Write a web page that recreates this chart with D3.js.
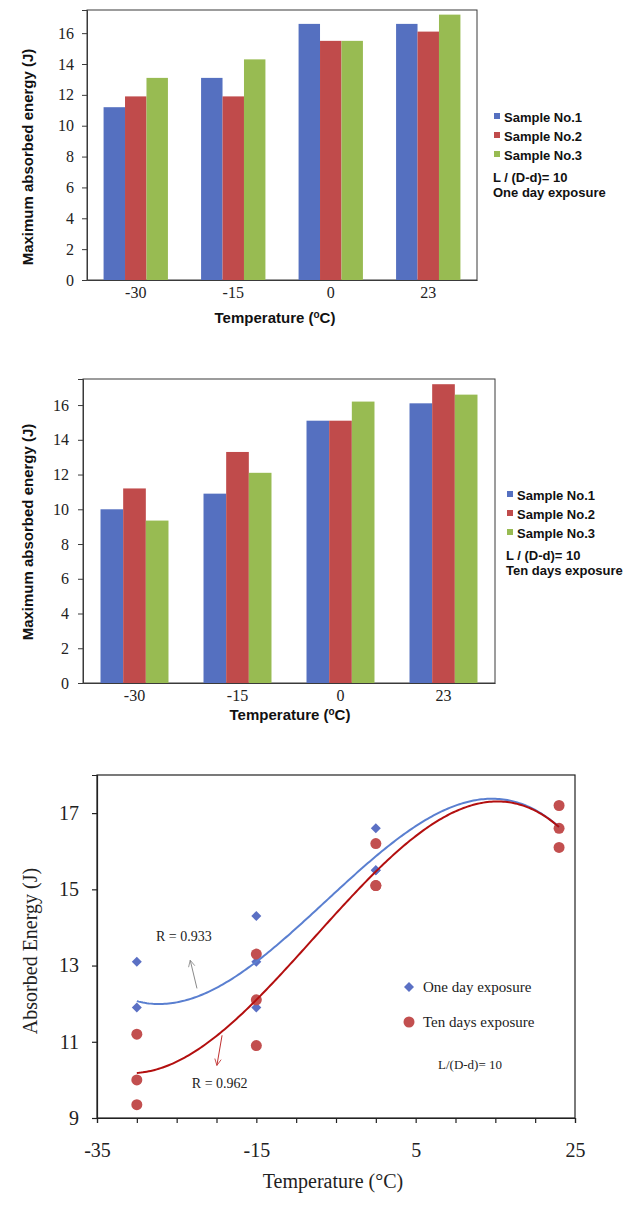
<!DOCTYPE html>
<html>
<head>
<meta charset="utf-8">
<script src="https://cdn.jsdelivr.net/npm/d3@7"></script>
<style>
  body { margin: 0; background: #fff; }
  .btitle { font-family: "Liberation Sans", Arial, sans-serif; font-weight: bold; font-size: 15px; fill: #111; }
  .blegend { font-family: "Liberation Sans", Arial, sans-serif; font-weight: bold; font-size: 13px; fill: #111; }
  .serif { font-family: "Liberation Serif", "Times New Roman", serif; fill: #222; }
</style>
</head>
<body>
<script>
// data
let temps = [-30, -15, 0, 23];
let samples = ["Sample No.1", "Sample No.2", "Sample No.3"];
let colors = ["#5570c0", "#c04b4b", "#98bb52"];
// one day exposure, per sample, per temperature
let oneDay = [
  [11.2, 13.1, 16.6, 16.6],
  [11.9, 11.9, 15.5, 16.1],
  [13.1, 14.3, 15.5, 17.2]
];
// ten days exposure
let tenDays = [
  [10.0, 10.9, 15.1, 16.1],
  [11.2, 13.3, 15.1, 17.2],
  [9.35, 12.1, 16.2, 16.6]
];
let barTicks = [0, 2, 4, 6, 8, 10, 12, 14, 16];
let scatterYTicks = [9, 11, 13, 15, 17];
let scatterXTicks = [-35, -30, -25, -20, -15, -10, -5, 0, 5, 10, 15, 20, 25];
let scatterXLabels = [-35, -15, 5, 25];

const SERIF = '"Liberation Serif", "Times New Roman", serif';

let svg = d3.select("body").append("svg")
    .attr("width", 630)
    .attr("height", 1209);

function barChart(vals, box, legendBox, note) {
  let g = svg.append("g");
  let x = d3.scaleBand().domain(temps).range([box.left, box.right])
      .paddingInner(0.34).paddingOuter(0.17);
  let xs = d3.scaleBand().domain(d3.range(samples.length)).range([0, x.bandwidth()]);
  let y = d3.scaleLinear().domain([0, 17.5]).range([box.bottom, box.top]);

  g.append("rect")
    .attr("x", box.left).attr("y", box.top)
    .attr("width", box.right - box.left).attr("height", box.bottom - box.top)
    .attr("fill", "#fff").attr("stroke", "#3a3a3a").attr("stroke-width", 1);

  samples.forEach((s, i) => {
    g.append("g").selectAll("rect")
      .data(vals[i])
      .enter().append("rect")
      .attr("x", (d, j) => x(temps[j]) + xs(i))
      .attr("width", xs.bandwidth())
      .attr("y", d => y(d))
      .attr("height", d => y(0) - y(d))
      .attr("fill", colors[i]);
  });

  let ya = g.append("g")
    .attr("transform", "translate(" + box.left + ",0)")
    .call(d3.axisLeft(y).tickValues(barTicks).tickSize(5).tickPadding(box.ypad));
  ya.select(".domain").attr("stroke", "#3a3a3a");
  ya.selectAll("line").attr("stroke", "#3a3a3a");
  ya.selectAll("text").style("font-family", SERIF).style("font-size", "16px").attr("fill", "#222");

  let xa = g.append("g")
    .attr("transform", "translate(0," + box.bottom + ")")
    .call(d3.axisBottom(x).tickSize(0).tickPadding(box.xpad));
  xa.select(".domain").attr("stroke", "#3a3a3a");
  xa.selectAll("text").style("font-family", SERIF).style("font-size", "16px").attr("fill", "#222");

  let t = g.append("text")
    .attr("class", "btitle")
    .attr("text-anchor", "middle")
    .attr("x", box.xtitle).attr("y", box.xtitleY)
    .text("Temperature (");
  t.append("tspan").attr("baseline-shift", "super").style("font-size", "10px").text("o");
  t.append("tspan").text("C)");

  g.append("text")
    .attr("class", "btitle")
    .attr("text-anchor", "middle")
    .attr("transform", "translate(" + box.ytitleX + "," + box.ytitleY + ") rotate(-90)")
    .text("Maximum absorbed energy (J)");

  samples.forEach((s, i) => {
    g.append("rect")
      .attr("x", legendBox.x).attr("y", legendBox.y + i * legendBox.dy - 4)
      .attr("width", 6).attr("height", 6)
      .attr("fill", colors[i]);
    g.append("text")
      .attr("class", "blegend")
      .attr("x", legendBox.x + 10).attr("y", legendBox.y + i * legendBox.dy + 4.5)
      .text(s);
  });
  g.append("text").attr("class", "blegend")
    .attr("x", legendBox.x - 1).attr("y", legendBox.y + 3 * legendBox.dy + 8)
    .text("L / (D-d)= 10");
  g.append("text").attr("class", "blegend")
    .attr("x", legendBox.x - 1).attr("y", legendBox.y + 3 * legendBox.dy + 23)
    .text(note);
}

barChart(oneDay,
  {left: 87, right: 477, top: 10, bottom: 280, ypad: 8, xpad: 7,
   xtitle: 275, xtitleY: 323, ytitleX: 33, ytitleY: 157},
  {x: 494, y: 117, dy: 19}, "One day exposure");

barChart(tenDays,
  {left: 83, right: 495, top: 379, bottom: 683, ypad: 9, xpad: 7,
   xtitle: 290, xtitleY: 720, ytitleX: 33, ytitleY: 532},
  {x: 507, y: 495, dy: 19}, "Ten days exposure");

// least squares polynomial fit
function polyfit(xs, ys, deg) {
  let n = deg + 1;
  let A = d3.range(n).map(() => d3.range(n + 1).map(() => 0));
  xs.forEach((xv, k) => {
    let t = xv / 10;
    for (let r = 0; r < n; r++) {
      for (let c = 0; c < n; c++) A[r][c] += Math.pow(t, r + c);
      A[r][n] += ys[k] * Math.pow(t, r);
    }
  });
  for (let i = 0; i < n; i++) {
    let p = i;
    for (let r = i + 1; r < n; r++) if (Math.abs(A[r][i]) > Math.abs(A[p][i])) p = r;
    [A[i], A[p]] = [A[p], A[i]];
    for (let r = 0; r < n; r++) {
      if (r === i) continue;
      let f = A[r][i] / A[i][i];
      for (let c = i; c <= n; c++) A[r][c] -= f * A[i][c];
    }
  }
  let coef = A.map((row, i) => row[n] / row[i]);
  return xv => coef.reduce((s, c, i) => s + c * Math.pow(xv / 10, i), 0);
}

function flatten(vals) {
  let pts = [];
  vals.forEach(row => row.forEach((v, j) => pts.push({x: temps[j], y: v})));
  return pts;
}

// scatter chart
let sb = {left: 97, right: 575, top: 775, bottom: 1118};
let sx = d3.scaleLinear().domain([-35, 25]).range([sb.left, sb.right]);
let sy = d3.scaleLinear().domain([9, 18]).range([sb.bottom, sb.top]);
let sg = svg.append("g");

sg.append("rect")
  .attr("x", sb.left).attr("y", sb.top)
  .attr("width", sb.right - sb.left).attr("height", sb.bottom - sb.top)
  .attr("fill", "#fff").attr("stroke", "#222").attr("stroke-width", 1.2);

let sya = sg.append("g")
  .attr("transform", "translate(" + sb.left + ",0)")
  .call(d3.axisLeft(sy).tickValues(scatterYTicks).tickSize(5).tickPadding(13));
sya.selectAll("text").style("font-family", SERIF).style("font-size", "20px").attr("fill", "#222");
sya.selectAll("line, path").attr("stroke", "#222").attr("stroke-width", 1.2);

let sxa = sg.append("g")
  .attr("transform", "translate(0," + sb.bottom + ")")
  .call(d3.axisBottom(sx).tickValues(scatterXTicks).tickSize(5).tickPadding(20)
    .tickFormat(d => scatterXLabels.includes(d) ? d : ""));
sxa.selectAll("text").style("font-family", SERIF).style("font-size", "20px").attr("fill", "#222");
sxa.selectAll("line, path").attr("stroke", "#222").attr("stroke-width", 1.2);

sg.append("text").attr("class", "serif")
  .attr("text-anchor", "middle")
  .attr("x", 333).attr("y", 1188)
  .style("font-size", "20px")
  .text("Temperature (°C)");

sg.append("text").attr("class", "serif")
  .attr("text-anchor", "middle")
  .attr("transform", "translate(37,951) rotate(-90)")
  .style("font-size", "20px")
  .text("Absorbed Energy (J)");

let series = [
  {name: "One day exposure", vals: oneDay, color: "#5b70c4", line: "#5a7fd0", shape: "diamond"},
  {name: "Ten days exposure", vals: tenDays, color: "#c24f4f", line: "#b30f0f", shape: "circle"}
];

let line = d3.line().x(d => sx(d[0])).y(d => sy(d[1]));
let xsamp = d3.range(-30, 23.001, 0.25);

series.forEach(s => {
  let pts = flatten(s.vals);
  let f = polyfit(pts.map(p => p.x), pts.map(p => p.y), 3);
  s.pts = pts;
  s.curve = xsamp.map(v => [v, f(v)]);
});

let diamond = d3.symbol().type(d3.symbolSquare).size(50);

function drawMark(sel, s) {
  if (s.shape === "diamond") {
    sel.append("path")
      .attr("d", diamond())
      .attr("transform", d => "translate(" + d.cx + "," + d.cy + ") rotate(45)")
      .attr("fill", s.color);
  } else {
    sel.append("circle")
      .attr("cx", d => d.cx).attr("cy", d => d.cy)
      .attr("r", 5.5)
      .attr("fill", s.color);
  }
}

series.forEach(s => {
  let m = sg.append("g").selectAll("g")
    .data(s.pts.map(p => ({cx: sx(p.x), cy: sy(p.y)})))
    .enter().append("g");
  drawMark(m, s);
});

series.forEach(s => {
  sg.append("path")
    .datum(s.curve)
    .attr("d", line)
    .attr("fill", "none")
    .attr("stroke", s.line)
    .attr("stroke-width", 2);
});

// annotations
let defs = svg.append("defs");
[["arrGray", "#8a8a8a"], ["arrRed", "#c03030"]].forEach(a => {
  defs.append("marker")
    .attr("id", a[0])
    .attr("viewBox", "0 0 10 10")
    .attr("refX", 9).attr("refY", 5)
    .attr("markerWidth", 8).attr("markerHeight", 8)
    .attr("orient", "auto")
    .append("path")
    .attr("d", "M1,1 L9,5 L1,9")
    .attr("fill", "none")
    .attr("stroke", a[1])
    .attr("stroke-width", 1);
});

sg.append("line")
  .attr("x1", sx(-22.45)).attr("y1", sy(12.4))
  .attr("x2", sx(-23.3)).attr("y2", sy(13.14))
  .attr("stroke", "#8a8a8a").attr("stroke-width", 1)
  .attr("marker-end", "url(#arrGray)");
sg.append("line")
  .attr("x1", sx(-19.3)).attr("y1", sy(11.17))
  .attr("x2", sx(-19.95)).attr("y2", sy(10.38))
  .attr("stroke", "#c03030").attr("stroke-width", 1)
  .attr("marker-end", "url(#arrRed)");

sg.append("text").attr("class", "serif")
  .attr("text-anchor", "middle")
  .attr("x", sx(-24.1)).attr("y", sy(13.64))
  .style("font-size", "14px")
  .text("R = 0.933");
sg.append("text").attr("class", "serif")
  .attr("text-anchor", "middle")
  .attr("x", sx(-19.6)).attr("y", sy(9.78))
  .style("font-size", "14px")
  .text("R = 0.962");

// legend
series.forEach((s, i) => {
  let ly = 987 + i * 35;
  let m = sg.append("g").selectAll("g").data([{cx: 409, cy: ly}]).enter().append("g");
  drawMark(m, s);
  sg.append("text").attr("class", "serif")
    .attr("x", 423).attr("y", ly + 5)
    .style("font-size", "15px")
    .text(s.name);
});
sg.append("text").attr("class", "serif")
  .attr("x", 438).attr("y", 1069)
  .style("font-size", "13px")
  .text("L/(D-d)= 10");
</script>
</body>
</html>
